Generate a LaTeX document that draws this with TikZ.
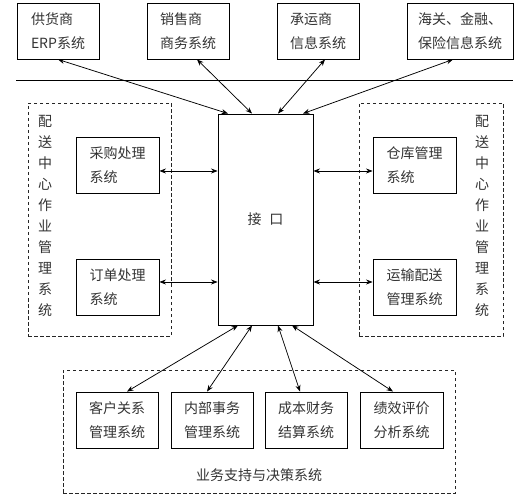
\documentclass[tikz,border=0pt]{standalone}
\usepackage{fontspec}
\setmainfont{Noto Sans CJK SC}
\usetikzlibrary{arrows.meta, positioning}

\begin{document}
\begin{tikzpicture}[
    x=1pt, y=-1pt,
    box/.style={rectangle, draw=black, line width=0.9pt, minimum width=82pt, minimum height=56pt,
                align=left, inner sep=0pt, font=\fontsize{14}{24}\selectfont, text=black!80},
    grp/.style={rectangle, draw=black!85, dashed, dash pattern=on 3.5pt off 2.5pt, line width=0.8pt, inner sep=0pt},
    vtext/.style={align=center, inner sep=0pt, font=\fontsize{14}{21}\selectfont, text=black!80},
    arr/.style={{Stealth[length=6.5pt, width=5pt]}-{Stealth[length=6.5pt, width=5pt]}, line width=0.75pt},
]
\useasboundingbox (0,0) rectangle (524,502);

% Outer systems
\node[box] (sup) at (58,31) {供货商\\ERP系统};
\node[box] (sales) at (188,31) {销售商\\商务系统};
\node[box] (carrier) at (318,31) {承运商\\信息系统};
\node[box, minimum width=106pt] (customs) at (460,31) {海关、金融、\\保险信息系统};

\coordinate (sepl) at (16,80);
\coordinate (sepr) at (513,80);
\draw[line width=0.9pt] (sepl) -- (sepr);

% Interface
\node[box, minimum width=95pt, minimum height=211pt] (iface) at (265.5,219.5) {接\hspace{8pt}口};

% Distribution centre groups
\node[grp, minimum width=143pt, minimum height=233pt] (leftgrp) at (99.5,219.5) {};
\node[grp, minimum width=144pt, minimum height=233pt] (rightgrp) at (431,219.5) {};
\node[vtext] (lefttxt) at (45,216) {配\\送\\中\\心\\作\\业\\管\\理\\系\\统};
\node[vtext] (righttxt) at (482,216) {配\\送\\中\\心\\作\\业\\管\\理\\系\\统};

\node[box, minimum width=83pt] (purch) at (117.5,165) {采购处理\\系统};
\node[box, minimum width=83pt] (order) at (117.5,287) {订单处理\\系统};
\node[box, minimum width=83pt] (ware) at (414.5,165) {仓库管理\\系统};
\node[box, minimum width=83pt] (trans) at (414.5,287) {运输配送\\管理系统};

% Decision support
\node[grp, minimum width=392pt, minimum height=123pt] (botgrp) at (259,431.5) {};
\node[box] (crm) at (117,420) {客户关系\\管理系统};
\node[box] (inner) at (212,420) {内部事务\\管理系统};
\node[box] (cost) at (306,420) {成本财务\\结算系统};
\node[box, minimum width=83pt] (perf) at (401.5,420) {绩效评价\\分析系统};
\node[vtext] (bottxt) at (259,475) {业务支持与决策系统};

% Connections
\draw[arr] (sup.south) -- ([xshift=-37.5pt]iface.north);
\draw[arr] ([xshift=9pt]sales.south) -- ([xshift=-13.5pt]iface.north);
\draw[arr] ([xshift=7pt]carrier.south) -- ([xshift=12.5pt]iface.north);
\draw[arr] ([xshift=-7pt]customs.south) -- ([xshift=37.5pt]iface.north);

\draw[arr] ([yshift=-6pt]purch.east) -- ([yshift=-6pt]purch.east -| iface.west);
\draw[arr] ([yshift=5pt]order.east) -- ([yshift=5pt]order.east -| iface.west);
\draw[arr] ([yshift=-6pt]ware.west -| iface.east) -- ([yshift=-6pt]ware.west);
\draw[arr] ([yshift=5pt]trans.west -| iface.east) -- ([yshift=5pt]trans.west);

\draw[arr] ([xshift=-27.5pt]iface.south) -- ([xshift=10pt]crm.north);
\draw[arr] ([xshift=-13.5pt]iface.south) -- ([xshift=-5pt]inner.north);
\draw[arr] ([xshift=12.5pt]iface.south) -- ([xshift=-6pt]cost.north);
\draw[arr] ([xshift=26.5pt]iface.south) -- ([xshift=-8.5pt]perf.north);

\end{tikzpicture}
\end{document}
